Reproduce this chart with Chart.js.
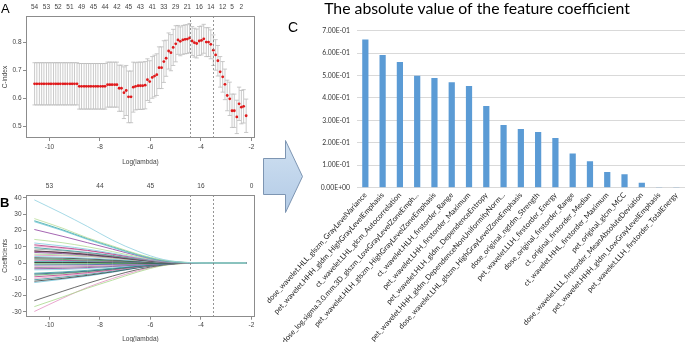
<!DOCTYPE html>
<html><head><meta charset="utf-8">
<script src="https://cdn.jsdelivr.net/npm/chart.js@4"></script>
<style>
html,body{margin:0;padding:0;background:#fff;}
#wrap{position:relative;width:685px;height:342px;overflow:hidden;background:#fff;}
canvas{position:absolute;}
.lbl{position:absolute;font-family:"Liberation Sans",Arial,sans-serif;color:#000;line-height:1;}
#arrow{position:absolute;left:0;top:0;z-index:3;pointer-events:none;}
</style></head><body>
<div id="wrap">
<canvas id="chartA" width="262" height="178" style="left:0;top:0"></canvas>
<canvas id="chartB" width="262" height="164" style="left:0;top:178px"></canvas>
<canvas id="chartC" width="435" height="342" style="left:250px;top:0"></canvas>
<div class="lbl" style="left:1px;top:2px;font-size:13px;">A</div>
<div class="lbl" style="left:0px;top:196px;font-size:13px;font-weight:bold;">B</div>
<div class="lbl" style="left:288px;top:20px;font-size:14px;">C</div>
<svg id="arrow" width="685" height="342">
<defs><linearGradient id="ag" x1="0" y1="0" x2="0" y2="1"><stop offset="0" stop-color="#cfe0f1"/><stop offset="1" stop-color="#b3cbe6"/></linearGradient></defs>
<polygon points="263.5,158.5 285.5,158.5 285.5,140.5 302.5,176.5 285.5,212.5 285.5,194.5 263.5,194.5" fill="url(#ag)" stroke="#7d95b2" stroke-width="1"/>
</svg>
</div>
<script>
// ---------------- Panel A: cross-validated C-index ----------------
const cvLogLambda = [-10.59,-10.50,-10.40,-10.31,-10.22,-10.12,-10.03,-9.94,-9.84,-9.75,
-9.66,-9.57,-9.47,-9.38,-9.29,-9.19,-9.10,-9.01,-8.91,-8.82,
-8.73,-8.63,-8.54,-8.45,-8.36,-8.26,-8.17,-8.08,-7.98,-7.89,
-7.80,-7.70,-7.61,-7.52,-7.42,-7.33,-7.24,-7.15,-7.05,-6.96,
-6.87,-6.77,-6.68,-6.59,-6.49,-6.40,-6.31,-6.21,-6.12,-6.03,
-5.93,-5.84,-5.75,-5.66,-5.56,-5.47,-5.38,-5.28,-5.19,-5.10,
-5.00,-4.91,-4.82,-4.72,-4.63,-4.54,-4.45,-4.35,-4.26,-4.17,
-4.07,-3.98,-3.89,-3.79,-3.70,-3.61,-3.51,-3.42,-3.33,-3.24,
-3.14,-3.05,-2.96,-2.86,-2.77,-2.68,-2.58,-2.49,-2.40,-2.31,-2.21];
const cvMean = [0.652,0.652,0.652,0.652,0.652,0.652,0.652,0.652,0.652,0.652,
0.652,0.652,0.652,0.652,0.652,0.652,0.652,0.652,0.652,0.643,
0.643,0.643,0.643,0.643,0.643,0.643,0.643,0.643,0.643,0.643,
0.643,0.649,0.649,0.649,0.649,0.649,0.636,0.636,0.620,0.628,
0.605,0.605,0.640,0.643,0.645,0.645,0.645,0.647,0.667,0.660,
0.675,0.680,0.685,0.710,0.710,0.732,0.744,0.770,0.764,0.783,
0.796,0.810,0.805,0.810,0.812,0.813,0.817,0.806,0.800,0.797,
0.806,0.808,0.814,0.802,0.802,0.794,0.773,0.756,0.735,0.695,
0.677,0.650,0.610,0.598,0.555,0.555,0.533,0.580,0.568,0.571,0.537];
const cvSd = [0.076,0.076,0.076,0.076,0.076,0.076,0.076,0.076,0.076,0.076,
0.076,0.076,0.076,0.076,0.076,0.076,0.076,0.076,0.076,0.082,
0.082,0.082,0.082,0.082,0.082,0.082,0.082,0.082,0.082,0.082,
0.082,0.081,0.081,0.081,0.081,0.081,0.083,0.083,0.093,0.090,
0.093,0.093,0.090,0.085,0.085,0.085,0.085,0.085,0.075,0.075,
0.075,0.075,0.075,0.075,0.075,0.075,0.065,0.065,0.065,0.065,
0.065,0.052,0.052,0.052,0.052,0.052,0.052,0.052,0.052,0.052,
0.052,0.052,0.052,0.052,0.052,0.052,0.055,0.055,0.055,0.055,
0.055,0.055,0.055,0.060,0.060,0.060,0.060,0.060,0.060,0.060,0.060];
const cvTopPos = [-10.59,-10.12,-9.66,-9.19,-8.73,-8.26,-7.80,-7.33,-6.87,-6.40,-5.93,-5.47,-5.00,-4.54,-4.07,-3.61,-3.14,-2.77,-2.40];
const cvTopLabels = ['54','53','52','51','49','45','44','42','45','43','41','33','29','21','16','14','12','5','2'];
const logLambdaTicks = [-10,-8,-6,-4,-2];
const cvYTicks = [0.5,0.6,0.7,0.8];
const lambdaMarks = [-4.45,-3.51];

// ---------------- Panel B: coefficient paths ----------------
const pathLogLambda = [-10.6,-9.5,-8.5,-7.5,-6.5,-5.5,-4.5,-3.5,-2.2];
const pathCoefs = [
[38.8,30.5,22.5,14,7.2,2.2,0.3,0,0],
[27.3,21.5,15.5,10.5,5.5,1.8,0.3,0,0],
[26.0,20.5,15,10,5.2,1.6,0.2,0,0],
[25.4,20,14.5,9.5,4.8,1.4,0.2,0,0],
[20.6,16.5,12.5,8.5,4.5,1.3,0.2,0,0],
[14.5,12.5,10,7,3.8,1.2,0.1,0,0],
[12.3,10.5,8.5,6,3.2,1,0.1,0,0],
[11.2,9.5,7.8,5.5,3,1,0.2,0,0],
[10.5,9,7.5,5.2,2.8,0.8,0.1,0,0],
[9.5,8,6.5,4.7,2.5,0.8,0.1,0,0],
[8.6,7.5,6,4.3,2.3,0.7,0,0,0],
[7.5,6.5,5.2,3.8,2,0.6,0,0,0],
[7.2,6.5,5.5,4,2.2,0.7,0.1,0,0],
[6.5,5.8,4.8,3.5,1.8,0.5,0,0,0],
[5.5,5,4.2,3,1.6,0.5,0,0,0],
[4.8,4.5,4,3,1.6,0.5,0,0,0],
[4,3.5,3,2.2,1.2,0.4,0,0,0],
[3.2,3,2.5,1.8,1,0.3,0,0,0],
[2.5,2.2,1.8,1.3,0.8,0.3,0,0,0],
[1.8,1.6,1.4,1,0.6,0.2,0,0,0],
[1.0,1,0.9,0.7,0.4,0.1,0,0,0],
[0.3,0.3,0.3,0.2,0.1,0.05,0,0,0],
[-0.5,-0.5,-0.4,-0.3,-0.2,-0.1,0,0,0],
[-1.2,-1.1,-1,-0.8,-0.5,-0.2,0,0,0],
[-2,-1.9,-1.6,-1.2,-0.7,-0.2,0,0,0],
[-2.8,-2.6,-2.2,-1.7,-1,-0.3,0,0,0],
[-3.5,-3.3,-2.8,-2.1,-1.2,-0.4,0,0,0],
[-4.2,-4,-3.4,-2.5,-1.4,-0.4,0,0,0],
[-6.3,-5.5,-4.5,-3.2,-1.7,-0.5,0,0,0],
[-6.8,-6,-5,-3.6,-2,-0.6,0,0,0],
[-7.5,-6.5,-5.3,-3.8,-2.1,-0.6,0,0,0],
[-8.5,-7.3,-5.9,-4.2,-2.3,-0.7,-0.1,0,0],
[-9.5,-8,-6.4,-4.5,-2.4,-0.7,-0.1,0,0],
[-10.3,-8.7,-7,-5,-2.7,-0.8,-0.1,0,0],
[-11.2,-9.5,-7.6,-5.4,-2.9,-0.9,-0.1,0,0],
[-12,-10,-8,-5.7,-3,-0.9,-0.1,0,0],
[-23.2,-17.5,-12.5,-8,-4,-1.2,-0.1,0,0],
[-26.8,-21,-15.5,-10.5,-5.5,-1.6,-0.2,0,0],
[-29.8,-21.8,-15,-9.5,-4.8,-1.4,-0.1,0,0]
];
const pathColors = ['#8ecfdf','#b9dd9b','#3aa8a8','#6cc4d8','#8e3f9e','#b2dc95','#80cbe0','#b0307a','#e49ac6','#2e9494',
'#999999','#333333','#a3286a','#7b3e8c','#a6d68e','#d98fbf','#78c6da','#222222','#3b9a55','#b43a86',
'#2f9f9f','#111111','#4caf50','#3355a0','#e08cc0','#8a8a8a','#8b3e9b','#7fcde0','#35a0a0','#28507a',
'#58b068','#b5337e','#e6a0cc','#2f8f8f','#333333','#6fc0d5','#444444','#a8d98a','#e391c3'];
const pathTopPos = [-10,-8,-6,-4,-2];
const pathTopLabels = ['53','44','45','16','0'];
const pathYTicks = [-30,-20,-10,0,10,20,30,40];

// ---------------- Panel C: absolute coefficients ----------------
const chartTitle = 'The absolute value of the feature coefficient';
const featureNames = [
'dose_wavelet.HLL_glszm_GrayLevelVariance',
'pet_wavelet.HHH_gldm_HighGrayLevelEmphasis',
'ct_wavelet.LHL_glcm_Autocorrelation',
'dose_log.sigma.3.0.mm.3D_glszm_LowGrayLevelZoneEmph...',
'pet_wavelet.HLH_glszm_HighGrayLevelZoneEmphasis',
'ct_wavelet.HLH_firstorder_Range',
'pet_wavelet.LHH_firstorder_Maximum',
'pet_wavelet.HLH_gldm_DependenceEntropy',
'pet_wavelet.HHH_gldm_DependenceNonUniformityNorm...',
'dose_wavelet.LHL_glszm_HighGrayLevelZoneEmphasis',
'dose_original_ngtdm_Strength',
'pet_wavelet.LLH_firstorder_Energy',
'dose_original_firstorder_Range',
'ct_original_firstorder_Median',
'ct_wavelet.HHL_firstorder_Maximum',
'pet_original_glcm_MCC',
'dose_wavelet.LLL_firstorder_MeanAbsoluteDeviation',
'pet_wavelet.HHH_gldm_LowGrayLevelEmphasis',
'pet_wavelet.LLH_firstorder_TotalEnergy'];
const coefValues = [0.661,0.592,0.560,0.499,0.489,0.470,0.453,0.364,0.280,0.262,0.248,0.222,0.152,0.118,0.070,0.060,0.022,0.001,0.001];
const coefTickLabels = ['0.00E+00','1.00E-01','2.00E-01','3.00E-01','4.00E-01','5.00E-01','6.00E-01','7.00E-01'];

// ---------------- helpers ----------------
const rFontFamily = '"Liberation Sans", Arial, sans-serif';
const rFont = {family: rFontFamily, size: 6.5};
const rColor = '#444';
const capHalfWidth = 0.084;

const rBox = {id:'rBox', afterDraw(c){
  const a=c.chartArea, ctx=c.ctx; ctx.save(); ctx.strokeStyle='#8c8c8c'; ctx.lineWidth=1;
  ctx.strokeRect(Math.round(a.left)+0.5, Math.round(a.top)+0.5, Math.round(a.right-a.left)-1, Math.round(a.bottom-a.top)-1);
  ctx.restore();}};
const vMarks = {id:'vMarks', afterDatasetsDraw(c){
  const xs=c.scales.x, a=c.chartArea, ctx=c.ctx; ctx.save(); ctx.strokeStyle='#7a7a7a'; ctx.lineWidth=0.8; ctx.setLineDash([2,2]);
  lambdaMarks.forEach(v=>{const px=Math.round(xs.getPixelForValue(v))+0.5; ctx.beginPath(); ctx.moveTo(px,a.top); ctx.lineTo(px,a.bottom); ctx.stroke();});
  ctx.restore();}};
const errBars = {id:'errBars', beforeDatasetsDraw(c){
  const xs=c.scales.x, ys=c.scales.y, ctx=c.ctx; ctx.save(); ctx.strokeStyle='#bdbdbd'; ctx.lineWidth=0.8;
  const hw = xs.getPixelForValue(capHalfWidth) - xs.getPixelForValue(0);
  cvLogLambda.forEach((lx,i)=>{
    const px=xs.getPixelForValue(lx), up=ys.getPixelForValue(cvMean[i]+cvSd[i]), lo=ys.getPixelForValue(cvMean[i]-cvSd[i]);
    ctx.beginPath(); ctx.moveTo(px,up); ctx.lineTo(px,lo);
    ctx.moveTo(px-hw,up); ctx.lineTo(px+hw,up); ctx.moveTo(px-hw,lo); ctx.lineTo(px+hw,lo); ctx.stroke();
  });
  ctx.restore();}};

function rScales(cfg){
  return {
    x:{type:'linear', position:'bottom', min:cfg.xmin, max:cfg.xmax,
      afterBuildTicks:s=>{s.ticks=logLambdaTicks.map(v=>({value:v}));},
      grid:{drawOnChartArea:false, drawTicks:true, tickLength:3, color:'#8c8c8c'}, border:{display:false},
      ticks:{color:rColor, font:rFont, padding:cfg.xPad, maxRotation:0, autoSkip:false, callback:v=>String(v)},
      title:{display:true, text:'Log(lambda)', color:rColor, font:{family:rFontFamily,size:6.5,lineHeight:1}, padding:{top:0,bottom:cfg.xTitlePad}},
      afterFit:s=>{s.height=cfg.xH; s.paddingLeft=0; s.paddingRight=0;}},
    x2:{type:'linear', position:'top', min:cfg.xmin, max:cfg.xmax,
      afterBuildTicks:s=>{s.ticks=cfg.topPos.map(v=>({value:v}));},
      grid:{display:false, drawTicks:false}, border:{display:false},
      ticks:{color:rColor, font:rFont, padding:cfg.topPad, maxRotation:0, autoSkip:false, callback:(v,i)=>cfg.topLabels[i]},
      afterFit:s=>{s.height=cfg.topH; s.paddingLeft=0; s.paddingRight=0;}},
    y:{type:'linear', min:cfg.ymin, max:cfg.ymax,
      afterBuildTicks:s=>{s.ticks=cfg.yTicks.map(v=>({value:v}));},
      grid:{drawOnChartArea:false, drawTicks:true, tickLength:3, color:'#8c8c8c'}, border:{display:false},
      ticks:{color:rColor, font:rFont, padding:1.5, callback:cfg.yFmt},
      title:{display:true, text:cfg.yTitle, color:rColor, font:{family:rFontFamily,size:6.5,lineHeight:1}, padding:{top:1.5,bottom:0}},
      afterFit:s=>{s.width=26; s.paddingTop=0; s.paddingBottom=0;}}
  };
}

// ---------------- Chart A ----------------
new Chart(document.getElementById('chartA'), {
  type:'scatter',
  data:{datasets:[{data:cvLogLambda.map((x,i)=>({x:x, y:cvMean[i]})), pointRadius:1.4, pointBackgroundColor:'#e0191b', pointBorderWidth:0, showLine:false}]},
  options:{responsive:false, animation:false, events:[],
    layout:{padding:{left:0,right:7,top:0,bottom:0}},
    plugins:{legend:{display:false}, tooltip:{enabled:false}},
    scales:rScales({xmin:-10.93, xmax:-1.86, ymin:0.457, ymax:0.896, xPad:2.8, xTitlePad:13, xH:40,
      topPos:cvTopPos, topLabels:cvTopLabels, topPad:4.8, topH:16, yTicks:cvYTicks, yFmt:v=>v.toFixed(1), yTitle:'C-index'})},
  plugins:[rBox, errBars, vMarks]
});

// ---------------- Chart B ----------------
new Chart(document.getElementById('chartB'), {
  type:'line',
  data:{datasets:pathCoefs.map((arr,k)=>({data:arr.map((y,i)=>({x:pathLogLambda[i], y:y})),
    borderColor:pathColors[k], borderWidth:0.8, pointRadius:0, cubicInterpolationMode:'monotone', fill:false}))},
  options:{responsive:false, animation:false, events:[],
    layout:{padding:{left:0,right:7,top:0,bottom:0}},
    plugins:{legend:{display:false}, tooltip:{enabled:false}},
    scales:rScales({xmin:-10.93, xmax:-1.86, ymin:-33, ymax:41.8, xPad:1.4, xTitlePad:0, xH:25.3,
      topPos:pathTopPos, topLabels:pathTopLabels, topPad:5.1, topH:17, yTicks:pathYTicks, yFmt:v=>String(v), yTitle:'Coefficients'})},
  plugins:[rBox, vMarks]
});

// ---------------- Chart C ----------------
new Chart(document.getElementById('chartC'), {
  type:'bar',
  data:{labels:featureNames, datasets:[{data:coefValues, backgroundColor:'#5b9bd5', barPercentage:0.36, categoryPercentage:1}]},
  options:{responsive:false, animation:false, events:[],
    layout:{padding:{left:19, right:0, top:0, bottom:0}},
    plugins:{legend:{display:false}, tooltip:{enabled:false},
      title:{display:true, text:chartTitle, color:'#000', font:{family:'Lato', size:15.8, weight:'normal', lineHeight:1}, padding:{top:0.5,bottom:14.4}}},
    scales:{
      x:{grid:{display:false, drawTicks:false}, border:{display:false},
        ticks:{autoSkip:false, minRotation:48, maxRotation:48, padding:3, color:'#222', font:{family:'Lato', size:7.5}},
        afterFit:s=>{s.height=154.3; s.paddingLeft=0; s.paddingRight=0;}},
      y:{min:0, max:0.7, grid:{color:'#d9d9d9', drawTicks:false}, border:{display:false},
        ticks:{stepSize:0.1, padding:6.7, color:'#333', font:{family:'Lato', size:6.8}, callback:(v,i)=>coefTickLabels[i]},
        afterFit:s=>{s.width=87.7; s.paddingTop=0; s.paddingBottom=0;}}
    }
  }
});
</script>
</body></html>
